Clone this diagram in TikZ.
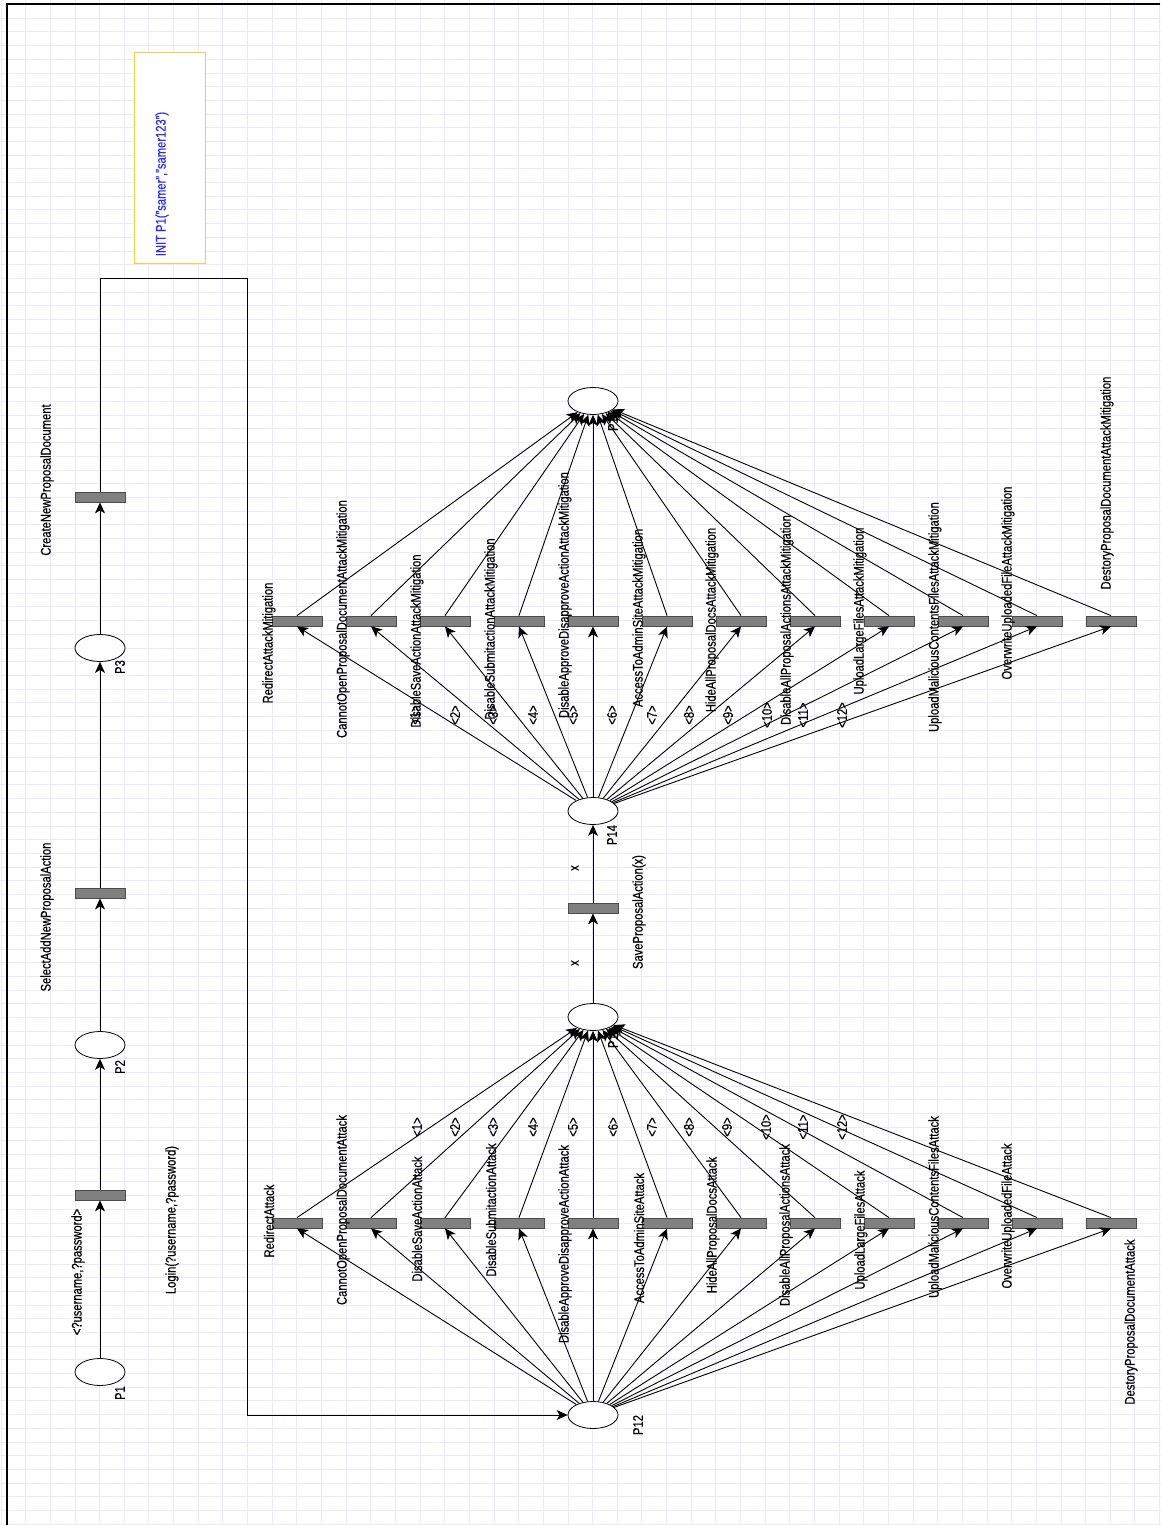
\documentclass[tikz,border=0pt]{standalone}
\usepackage{fontspec}
\setmainfont{Liberation Sans}[FakeStretch=0.8,FakeBold=0.4]
\usetikzlibrary{arrows.meta,shapes.geometric}
\definecolor{gridblue}{RGB}{234,234,252}
\definecolor{bargray}{RGB}{128,128,128}
\definecolor{initgold}{RGB}{255,204,64}
\definecolor{initblue}{RGB}{40,40,255}

\begin{document}
\begin{tikzpicture}[x=1pt,y=-1pt]
    \def\dx{74}
    \def\cx{593}
    \def\ya{1223}
    \def\ym{621}

    \tikzstyle{place}=[draw=black,fill=white,ellipse,line width=0.8pt,minimum width=50pt,minimum height=27pt,inner sep=0pt]
    \tikzstyle{trans}=[draw=black!70,fill=bargray,line width=0.8pt,minimum width=50pt,minimum height=10pt,inner sep=0pt]
    \tikzstyle{txt}=[rotate=90,inner sep=0pt,font=\fontsize{14}{16}\selectfont]
    \tikzstyle{flow}=[draw=black,line width=0.9pt,-{Stealth[length=11pt,width=10pt,inset=3pt]}]

    % page, grid and frame
    \fill[white] (0,0) rectangle (1160,1525);
    \useasboundingbox (0,0) rectangle (1160,1525);
    \begin{scope}[y=1pt,xshift=1.05pt,yshift=-4.6pt]
      \draw[gridblue,line width=1pt,xstep=24.65pt,ystep=13.69pt] (-10,-1540) grid (1170,10);
    \end{scope}
    \draw[line width=1.6pt] (7,1525) -- (7,4) -- (1160,4);

    % init marking
    \node[draw=initgold,fill=white,line width=1pt,minimum width=71pt,minimum height=210pt] (init) at (169.5,158) {};
    \node[txt,text=initblue] (initL) at (162,184) {INIT P1("samer","samer123")};

    % login chain
    \node[place] (p1) at (100,1372) {};
    \node[place] (p2) at (100,1045) {};
    \node[place] (p3) at (100,648) {};
    \node[trans] (login) at (100,1195) {};
    \node[trans] (select) at (100,893) {};
    \node[trans] (create) at (100,497) {};
    \node[txt] (p1L) at (120,1393) {P1};
    \node[txt] (p2L) at (120,1067) {P2};
    \node[txt] (p3L) at (120,667) {P3};
    \node[txt] (loginL) at (172,1220) {Login(?username,?password)};
    \node[txt] (loginA) at (78,1272) {<?username,?password>};
    \node[txt] (selectL) at (47,917) {SelectAddNewProposalAction};
    \node[txt] (createL) at (47,480) {CreateNewProposalDocument};
    \coordinate (c1) at (100,278);
    \coordinate (c2) at (247,278);

    % middle column
    \node[place] (p12) at (\cx,1415) {};
    \node[place] (p13) at (\cx,1017) {};
    \node[place] (p14) at (\cx,811) {};
    \node[place] (p15) at (\cx,401) {};
    \node[trans] (save) at (\cx,908) {};
    \node[txt] (p12L) at (638,1425) {P12};
    \node[txt] (p13L) at (613,1038) {P13};
    \node[txt] (p14L) at (612,835) {P14};
    \node[txt] (p15L) at (613,421) {P15};
    \node[txt] (saveL) at (639,912) {SaveProposalAction(x)};
    \node[txt] (saveIn) at (575,963) {x};
    \node[txt] (saveOut) at (575,868) {x};

    % attacks
    \node[trans] (redir) at (\cx-4*\dx,\ya) {};
    \node[trans] (open) at (\cx-3*\dx,\ya) {};
    \node[trans] (disSave) at (\cx-2*\dx,\ya) {};
    \node[trans] (submit) at (\cx-1*\dx,\ya) {};
    \node[trans] (approve) at (\cx,\ya) {};
    \node[trans] (admin) at (\cx+1*\dx,\ya) {};
    \node[trans] (hide) at (\cx+2*\dx,\ya) {};
    \node[trans] (disAll) at (\cx+3*\dx,\ya) {};
    \node[trans] (large) at (\cx+4*\dx,\ya) {};
    \node[trans] (malic) at (\cx+5*\dx,\ya) {};
    \node[trans] (over) at (\cx+6*\dx,\ya) {};
    \node[trans] (destroy) at (\cx+7*\dx,\ya) {};

    \node[txt] (redirL) at (269,1221) {RedirectAttack};
    \node[txt] (openL) at (343,1210) {CannotOpenProposalDocumentAttack};
    \node[txt] (disSaveL) at (417,1219) {DisableSaveActionAttack};
    \node[txt] (submitL) at (491,1210) {DisableSubmitactionAttack};
    \node[txt] (approveL) at (565,1244) {DisableApproveDisapproveActionAttack};
    \node[txt] (adminL) at (639,1238) {AccessToAdminSiteAttack};
    \node[txt] (hideL) at (713,1225) {HideAllProposalDocsAttack};
    \node[txt] (disAllL) at (786,1225) {DisableAllProposalActionsAttack};
    \node[txt] (largeL) at (861,1230) {UploadLargeFilesAttack};
    \node[txt] (malicL) at (935,1207) {UploadMaliciousContentsFilesAttack};
    \node[txt] (overL) at (1008,1216) {OverwriteUploadedFileAttack};
    \node[txt] (destroyL) at (1131,1322) {DestoryProposalDocumentAttack};

    % mitigations
    \node[trans] (redirM) at (\cx-4*\dx,\ym) {};
    \node[trans] (openM) at (\cx-3*\dx,\ym) {};
    \node[trans] (disSaveM) at (\cx-2*\dx,\ym) {};
    \node[trans] (submitM) at (\cx-1*\dx,\ym) {};
    \node[trans] (approveM) at (\cx,\ym) {};
    \node[trans] (adminM) at (\cx+1*\dx,\ym) {};
    \node[trans] (hideM) at (\cx+2*\dx,\ym) {};
    \node[trans] (disAllM) at (\cx+3*\dx,\ym) {};
    \node[trans] (largeM) at (\cx+4*\dx,\ym) {};
    \node[trans] (malicM) at (\cx+5*\dx,\ym) {};
    \node[trans] (overM) at (\cx+6*\dx,\ym) {};
    \node[trans] (destroyM) at (\cx+7*\dx,\ym) {};

    \node[txt] (redirML) at (269,643) {RedirectAttackMitigation};
    \node[txt] (openML) at (343,619) {CannotOpenProposalDocumentAttackMitigation};
    \node[txt] (disSaveML) at (417,641) {DisableSaveActionAttackMitigation};
    \node[txt] (submitML) at (491,629) {DisableSubmitactionAttackMitigation};
    \node[txt] (approveML) at (565,595) {DisableApproveDisapproveActionAttackMitigation};
    \node[txt] (adminML) at (639,618) {AccessToAdminSiteAttackMitigation};
    \node[txt] (hideML) at (712,620) {HideAllProposalDocsAttackMitigation};
    \node[txt] (disAllML) at (787,620) {DisableAllProposalActionsAttackMitigation};
    \node[txt] (largeML) at (860,611) {UploadLargeFilesAttackMitigation};
    \node[txt] (malicML) at (935,617) {UploadMaliciousContentsFilesAttackMitigation};
    \node[txt] (overML) at (1008,583) {OverwriteUploadedFileAttackMitigation};
    \node[txt] (destroyML) at (1107,483) {DestoryProposalDocumentAttackMitigation};

    % arc inscriptions
    \node[txt] (a1) at (417,1127) {<1>};
    \node[txt] (a2) at (455,1127) {<2>};
    \node[txt] (a3) at (493,1127) {<3>};
    \node[txt] (a4) at (533,1127) {<4>};
    \node[txt] (a5) at (573,1127) {<5>};
    \node[txt] (a6) at (613,1127) {<6>};
    \node[txt] (a7) at (652,1127) {<7>};
    \node[txt] (a8) at (689,1127) {<8>};
    \node[txt] (a9) at (727,1127) {<9>};
    \node[txt] (a10) at (766,1127) {<10>};
    \node[txt] (a11) at (803,1127) {<11>};
    \node[txt] (a12) at (842,1127) {<12>};

    \node[txt] (m1) at (415,715) {<1>};
    \node[txt] (m2) at (455,715) {<2>};
    \node[txt] (m3) at (493,715) {<3>};
    \node[txt] (m4) at (533,715) {<4>};
    \node[txt] (m5) at (573,715) {<5>};
    \node[txt] (m6) at (612,715) {<6>};
    \node[txt] (m7) at (652,715) {<7>};
    \node[txt] (m8) at (689,715) {<8>};
    \node[txt] (m9) at (728,715) {<9>};
    \node[txt] (m10) at (767,715) {<10>};
    \node[txt] (m11) at (803,715) {<11>};
    \node[txt] (m12) at (842,715) {<12>};

    % login chain arcs
    \draw[flow] (p1) -- (login.south);
    \draw[flow] (login.north) -- (p2);
    \draw[flow] (p2) -- (select.south);
    \draw[flow] (select.north) -- (p3);
    \draw[flow] (p3) -- (create.south);
    \draw[flow] (create.north) -- (c1) -- (c2) |- (p12);

    \draw[flow] (p13) -- (save.south);
    \draw[flow] (save.north) -- (p14);

    % P12 -> attacks -> P13
    \draw[flow] (p12) -- (redir.south);
    \draw[flow] (p12) -- (open.south);
    \draw[flow] (p12) -- (disSave.south);
    \draw[flow] (p12) -- (submit.south);
    \draw[flow] (p12) -- (approve.south);
    \draw[flow] (p12) -- (admin.south);
    \draw[flow] (p12) -- (hide.south);
    \draw[flow] (p12) -- (disAll.south);
    \draw[flow] (p12) -- (large.south);
    \draw[flow] (p12) -- (malic.south);
    \draw[flow] (p12) -- (over.south);
    \draw[flow] (p12) -- (destroy.south);

    \draw[flow] (redir.north) -- (p13);
    \draw[flow] (open.north) -- (p13);
    \draw[flow] (disSave.north) -- (p13);
    \draw[flow] (submit.north) -- (p13);
    \draw[flow] (approve.north) -- (p13);
    \draw[flow] (admin.north) -- (p13);
    \draw[flow] (hide.north) -- (p13);
    \draw[flow] (disAll.north) -- (p13);
    \draw[flow] (large.north) -- (p13);
    \draw[flow] (malic.north) -- (p13);
    \draw[flow] (over.north) -- (p13);
    \draw[flow] (destroy.north) -- (p13);

    % P14 -> mitigations -> P15
    \draw[flow] (p14) -- (redirM.south);
    \draw[flow] (p14) -- (openM.south);
    \draw[flow] (p14) -- (disSaveM.south);
    \draw[flow] (p14) -- (submitM.south);
    \draw[flow] (p14) -- (approveM.south);
    \draw[flow] (p14) -- (adminM.south);
    \draw[flow] (p14) -- (hideM.south);
    \draw[flow] (p14) -- (disAllM.south);
    \draw[flow] (p14) -- (largeM.south);
    \draw[flow] (p14) -- (malicM.south);
    \draw[flow] (p14) -- (overM.south);
    \draw[flow] (p14) -- (destroyM.south);

    \draw[flow] (redirM.north) -- (p15);
    \draw[flow] (openM.north) -- (p15);
    \draw[flow] (disSaveM.north) -- (p15);
    \draw[flow] (submitM.north) -- (p15);
    \draw[flow] (approveM.north) -- (p15);
    \draw[flow] (adminM.north) -- (p15);
    \draw[flow] (hideM.north) -- (p15);
    \draw[flow] (disAllM.north) -- (p15);
    \draw[flow] (largeM.north) -- (p15);
    \draw[flow] (malicM.north) -- (p15);
    \draw[flow] (overM.north) -- (p15);
    \draw[flow] (destroyM.north) -- (p15);

\end{tikzpicture}
\end{document}
